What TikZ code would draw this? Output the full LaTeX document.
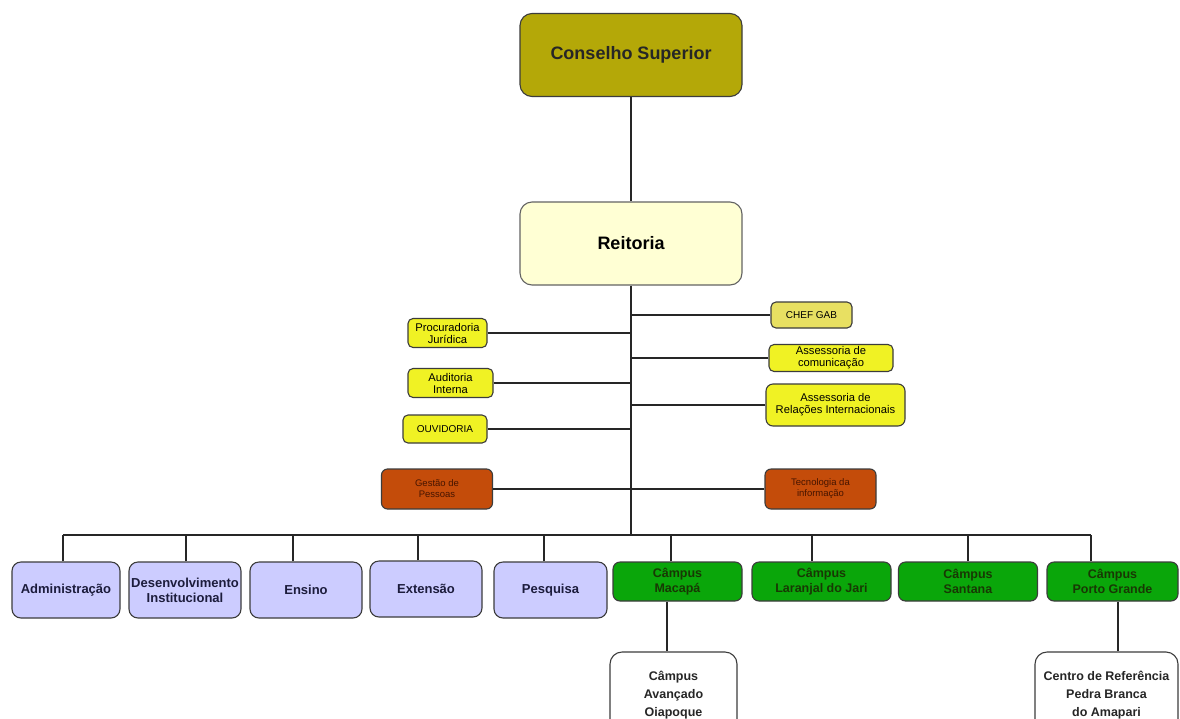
\documentclass[tikz,border=0pt]{standalone}
\usepackage{fontspec}
\setmainfont{Liberation Sans}
\definecolor{olivebox}{RGB}{180,168,8}
\definecolor{reitbox}{RGB}{255,255,212}
\definecolor{chefbox}{RGB}{232,224,98}
\definecolor{yelbox}{RGB}{240,242,36}
\definecolor{orabox}{RGB}{196,76,10}
\definecolor{lavbox}{RGB}{204,204,255}
\definecolor{grnbox}{RGB}{10,166,10}
\definecolor{edge}{RGB}{60,60,60}
\definecolor{navytxt}{RGB}{28,28,60}
\definecolor{grntxt}{RGB}{24,56,4}
\definecolor{oratxt}{RGB}{70,20,0}
\begin{document}
\begin{tikzpicture}[x=1pt,y=-1pt,
  box/.style={draw=edge,line width=1.1pt,inner sep=1pt,align=center,text=black},
  bigbox/.style={box,rounded corners=12pt,minimum width=222pt,minimum height=83pt,
     font=\fontsize{18}{20}\selectfont\bfseries},
  smallbox/.style={box,fill=yelbox,rounded corners=5pt,font=\fontsize{11.2}{12}\selectfont},
  orabx/.style={box,fill=orabox,rounded corners=6pt,text=oratxt,minimum width=111pt,minimum height=40pt,
     font=\fontsize{9.5}{11}\selectfont},
  lavbx/.style={box,fill=lavbox,rounded corners=9pt,text=navytxt,minimum height=56pt,
     font=\fontsize{13}{15}\selectfont\bfseries},
  grnbx/.style={box,fill=grnbox,rounded corners=7pt,text=grntxt,minimum height=39pt,
     font=\fontsize{12.5}{15}\selectfont\bfseries},
  whtbx/.style={box,fill=white,rounded corners=12pt,minimum height=86pt,
     font=\fontsize{12.5}{18}\selectfont\bfseries,text=black!85},
  link/.style={draw=black!85,line width=1.4pt}]
\clip (0,0) rectangle (1180,718);
\useasboundingbox (0,0) rectangle (1180,718);
\fill[white] (0,0) rectangle (1180,718);

% top
\node[bigbox,fill=olivebox,text=black!85] (cs) at (631,55) {Conselho Superior};
\node[bigbox,fill=reitbox,draw=edge!80] (re) at (631,243.5) {Reitoria};

% staff boxes
\node[smallbox,fill=chefbox,minimum width=81pt,minimum height=26pt,font=\fontsize{10}{11}\selectfont] (chef) at (811.5,315) {CHEF GAB};
\node[smallbox,minimum width=79pt,minimum height=29pt] (proc) at (447.5,333) {Procuradoria\\Jurídica};
\node[smallbox,minimum width=85pt,minimum height=29pt] (aud) at (450.5,383) {Auditoria\\Interna};
\node[smallbox,minimum width=84pt,minimum height=28pt,font=\fontsize{10}{11}\selectfont] (ouv) at (445,429) {OUVIDORIA};
\node[smallbox,minimum width=124pt,minimum height=27pt] (com) at (831,358) {Assessoria de\\comunicação};
\node[smallbox,minimum width=139pt,minimum height=42pt,rounded corners=7pt] (rel) at (835.5,405) {Assessoria de\\Relações Internacionais};
\node[orabx] (ges) at (437,489) {Gestão de\\Pessoas};
\node[orabx] (tec) at (820.5,489) {Tecnologia da\\informação};

% bottom row
\node[lavbx,minimum width=108pt] (adm) at (66,590) {Administração};
\node[lavbx,minimum width=112pt,inner sep=0pt] (des) at (185,590) {Desenvolvimento\\Institucional};
\node[lavbx,minimum width=112pt] (ens) at (306,590) {Ensino};
\node[lavbx,minimum width=112pt] (ext) at (426,589) {Extensão};
\node[lavbx,minimum width=113pt] (pes) at (550.5,590) {Pesquisa};
\node[grnbx,minimum width=129pt] (mac) at (677.5,581.5) {Câmpus\\Macapá};
\node[grnbx,minimum width=139pt] (lar) at (821.5,581.5) {Câmpus\\Laranjal do Jari};
\node[grnbx,minimum width=139pt] (san) at (968,581.5) {Câmpus\\Santana};
\node[grnbx,minimum width=131pt] (por) at (1112.5,581.5) {Câmpus\\Porto Grande};
\node[whtbx,minimum width=127pt] (oia) at (673.5,695) {Câmpus\\Avançado\\Oiapoque};
\node[whtbx,minimum width=143pt] (cen) at (1106.5,695) {Centro de Referência\\Pedra Branca\\do Amapari};

% connectors
\coordinate (busL) at (63,535);
\coordinate (busR) at (1091,535);
\draw[link] (cs.south) -- (re.north);
\draw[link] (re.south) -- (re.south |- busL);
\draw[link] (busL) -- (busR);
\foreach \n/\d in {chef/west,com/west,rel/west,tec/west,proc/east,aud/east,ouv/east,ges/east}
  \draw[link] (\n.\d) -- (\n.\d -| re.south);
\draw[link] ([xshift=-3pt]adm.north) -- ([xshift=-3pt]adm.north |- busL);
\draw[link] ([xshift=1pt]des.north) -- ([xshift=1pt]des.north |- busL);
\draw[link] ([xshift=-13pt]ens.north) -- ([xshift=-13pt]ens.north |- busL);
\draw[link] ([xshift=-8pt]ext.north) -- ([xshift=-8pt]ext.north |- busL);
\draw[link] ([xshift=-6.5pt]pes.north) -- ([xshift=-6.5pt]pes.north |- busL);
\draw[link] ([xshift=-6.5pt]mac.north) -- ([xshift=-6.5pt]mac.north |- busL);
\draw[link] ([xshift=-9.5pt]lar.north) -- ([xshift=-9.5pt]lar.north |- busL);
\draw[link] (san.north) -- (san.north |- busL);
\draw[link] ([xshift=-21.5pt]por.north) -- (busR);
\draw[link] ([xshift=-10.5pt]mac.south) -- ([xshift=-10.5pt]mac.south |- oia.north);
\draw[link] ([xshift=5.5pt]por.south) -- ([xshift=5.5pt]por.south |- cen.north);
\end{tikzpicture}
\end{document}
